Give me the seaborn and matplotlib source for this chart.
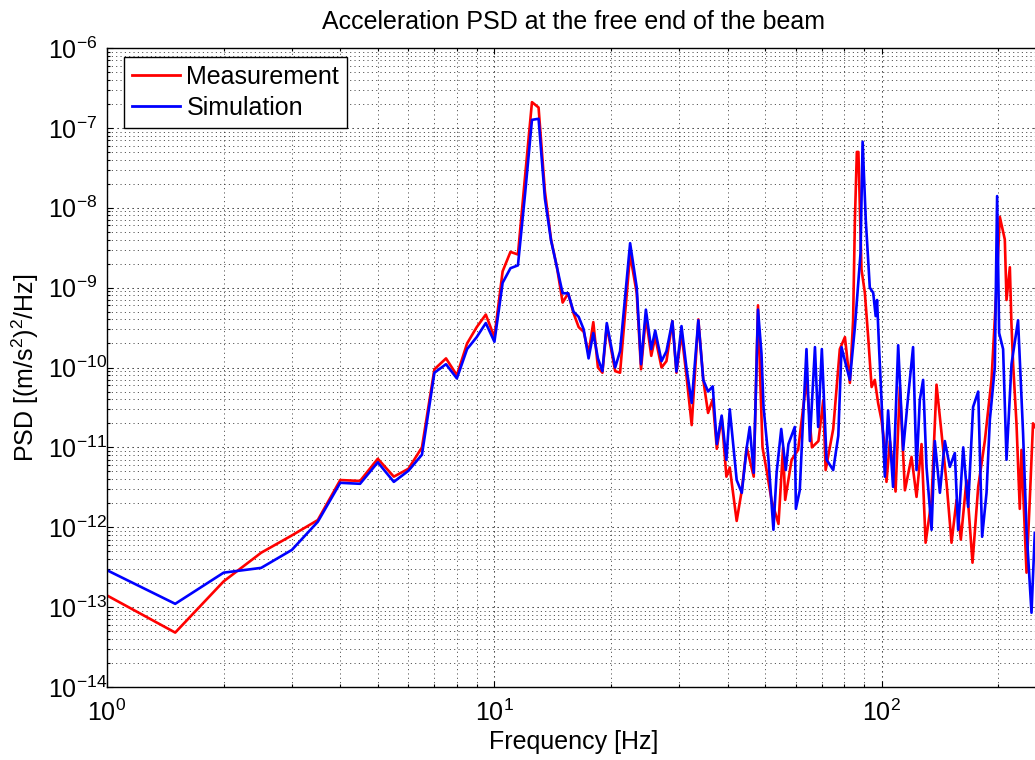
import matplotlib
matplotlib.use("Agg")
import pandas as pd
import matplotlib.pyplot as plt
import seaborn as sns
from matplotlib.ticker import LogLocator, NullFormatter

meas_freq = [1.0, 1.5, 2.0, 2.5, 3.0, 3.5, 4.0, 4.5, 5.0, 5.5, 6.0, 6.5, 7.0, 7.5, 8.0, 8.5,
             9.0, 9.5, 10.0, 10.5, 11.0, 11.5, 12.0, 12.5, 13.0, 13.5, 14.0, 14.5, 15.0, 15.5,
             16.0, 16.5, 17.0, 17.5, 18.0, 18.5, 19.0, 19.5, 20.5, 21.1, 22.4, 23.3, 23.9, 24.6,
             25.4, 26.0, 27.0, 27.8, 28.8, 29.5, 30.4, 31.3, 32.3, 33.6, 34.6, 35.6, 36.6, 37.5,
             38.6, 39.7, 40.5, 42.2, 43.5, 44.8, 45.6, 46.7, 47.9, 48.6, 49.2, 50.4, 51.9, 54.1,
             55.6, 56.3, 58.5, 60.8, 63.9, 66.0, 68.6, 70.6, 71.6, 74.9, 77.9, 80.3, 82.7, 84.3,
             85.2, 86.2, 87.0, 87.7, 88.6, 90.4, 92.2, 94.1, 95.9, 97.8, 99.8, 101.8, 102.8,
             104.9, 108.5, 111.3, 114.7, 119.3, 122.9, 126.6, 129.7, 134.4, 138.4, 142.6, 146.9,
             151.3, 155.9, 159.9, 165.4, 171.4, 177.3, 184.4, 191.9, 197.7, 201.6, 207.7, 209.8,
             214.0, 216.0, 218.2, 222.6, 227.0, 229.3, 236.3, 240.9, 245.6, 248.0]
meas_psd = [1.4e-13, 4.8e-14, 2.1e-13, 4.8e-13, 7.9e-13, 1.23e-12, 3.9e-12, 3.8e-12, 7.2e-12,
            4.3e-12, 5.4e-12, 1.0e-11, 9.5e-11, 1.3e-10, 8.0e-11, 2.0e-10, 3.2e-10, 4.6e-10,
            2.4e-10, 1.6e-09, 2.8e-09, 2.6e-09, 2.5e-08, 2.1e-07, 1.8e-07, 1.6e-08, 4.0e-09,
            1.8e-09, 6.5e-10, 8.5e-10, 4.8e-10, 3.2e-10, 2.8e-10, 1.5e-10, 3.7e-10, 1.0e-10,
            8.6e-11, 3.3e-10, 9.0e-11, 8.6e-11, 2.6e-09, 8.5e-10, 9.5e-11, 4.3e-10, 1.4e-10,
            2.4e-10, 1.0e-10, 1.2e-10, 3.8e-10, 8.6e-11, 2.7e-10, 8.0e-11, 1.9e-11, 4.0e-10,
            7.0e-11, 2.7e-11, 4.0e-11, 9.6e-12, 2.4e-11, 4.3e-12, 5.6e-12, 1.2e-12, 2.9e-12,
            1.0e-11, 7.0e-12, 4.3e-12, 6.0e-10, 6.0e-11, 1.0e-11, 5.2e-12, 2.2e-12, 1.1e-12,
            1.0e-11, 2.2e-12, 7.0e-12, 9.3e-12, 7.0e-11, 1.0e-11, 1.2e-11, 3.9e-11, 5.2e-12,
            1.7e-11, 1.7e-10, 2.4e-10, 6.4e-11, 3.9e-10, 7.0e-09, 5.0e-08, 5.0e-08, 1.1e-08,
            1.7e-09, 8.6e-10, 2.4e-10, 5.7e-11, 7.0e-11, 3.6e-11, 2.2e-11, 1.0e-11, 3.7e-12,
            1.2e-11, 2.8e-12, 5.7e-11, 2.9e-12, 7.6e-12, 2.4e-12, 1.1e-11, 6.4e-13, 2.2e-12,
            6.1e-11, 1.5e-11, 3.6e-12, 6.4e-13, 2.2e-12, 7.0e-13, 3.9e-12, 3.6e-13, 3.2e-12,
            1.2e-11, 7.0e-11, 1.0e-09, 7.7e-09, 4.0e-09, 7.0e-10, 1.8e-09, 3.6e-10, 1.1e-10,
            2.0e-11, 1.7e-12, 9.3e-12, 2.7e-13, 2.2e-12, 2.0e-11, 1.8e-11]

# Simulated PSD
sim_freq = [1.0, 1.5, 2.0, 2.5, 3.0, 3.5, 4.0, 4.5, 5.0, 5.5, 6.0, 6.5, 7.0, 7.5, 8.0, 8.5,
            9.0, 9.5, 10.0, 10.5, 11.0, 11.5, 12.0, 12.5, 13.0, 13.5, 14.0, 14.5, 15.0, 15.5,
            16.0, 16.5, 17.0, 17.5, 18.0, 18.5, 19.0, 19.5, 20.5, 21.1, 22.4, 23.3, 23.9, 24.6,
            25.4, 26.0, 27.0, 27.8, 28.8, 29.5, 30.4, 31.3, 32.3, 33.6, 34.6, 35.6, 36.6, 37.5,
            38.6, 39.7, 40.5, 42.2, 43.5, 44.8, 45.6, 46.7, 47.9, 48.9, 49.5, 50.9, 52.5, 53.5,
            55.0, 56.5, 57.4, 59.6, 60.0, 61.4, 62.6, 63.9, 65.2, 67.2, 68.5, 70.0, 72.0, 74.9,
            77.2, 78.7, 81.1, 82.7, 85.2, 88.1, 89.2, 90.9, 93.1, 95.0, 96.4, 97.2, 98.4, 99.8,
            101.8, 103.8, 106.9, 110.2, 113.5, 116.9, 120.4, 122.9, 125.3, 127.8, 130.4, 134.4,
            137.0, 141.2, 145.4, 149.8, 154.3, 157.4, 162.2, 167.0, 172.0, 177.3, 181.5, 186.3,
            190.0, 195.7, 198.4, 200.8, 205.6, 209.8, 216.1, 224.7, 231.5, 236.3, 243.4, 248.2]
sim_psd = [2.9e-13, 1.1e-13, 2.7e-13, 3.1e-13, 5.2e-13, 1.17e-12, 3.6e-12, 3.5e-12, 6.5e-12,
           3.7e-12, 5.1e-12, 8.1e-12, 8.6e-11, 1.1e-10, 7.3e-11, 1.7e-10, 2.4e-10, 3.6e-10,
           2.1e-10, 1.15e-09, 1.75e-09, 1.9e-09, 1.5e-08, 1.26e-07, 1.3e-07, 1.3e-08, 3.9e-09,
           1.8e-09, 8.5e-10, 8.5e-10, 5.0e-10, 4.3e-10, 3.0e-10, 1.3e-10, 2.7e-10, 1.3e-10,
           9.0e-11, 3.6e-10, 1.0e-10, 1.6e-10, 3.6e-09, 1.0e-09, 1.1e-10, 5.3e-10, 1.7e-10,
           2.9e-10, 1.2e-10, 1.6e-10, 3.8e-10, 8.9e-11, 3.3e-10, 1.0e-10, 3.6e-11, 3.9e-10,
           7.0e-11, 5.0e-11, 5.8e-11, 1.1e-11, 2.5e-11, 7.0e-12, 3.0e-11, 3.9e-12, 2.7e-12,
           1.0e-11, 1.8e-11, 4.8e-12, 5.3e-10, 1.5e-10, 3.2e-11, 7.8e-12, 9.3e-13, 4.8e-12,
           1.7e-11, 5.2e-12, 1.1e-11, 1.8e-11, 1.7e-12, 2.9e-12, 2.2e-11, 1.7e-10, 1.2e-11,
           1.8e-10, 1.8e-11, 1.7e-10, 7.0e-12, 5.2e-12, 1.4e-11, 1.8e-10, 1.0e-10, 7.0e-11,
           3.2e-10, 2.7e-09, 6.7e-08, 7.0e-09, 1.0e-09, 8.6e-10, 4.4e-10, 7.0e-10, 1.7e-10,
           3.9e-11, 4.3e-12, 2.9e-11, 3.2e-12, 1.9e-10, 9.3e-12, 4.3e-11, 1.8e-10, 5.2e-12,
           3.9e-11, 7.0e-11, 5.7e-12, 9.3e-13, 1.2e-11, 2.7e-12, 1.2e-11, 5.7e-12, 8.5e-12,
           9.3e-13, 1.0e-11, 1.8e-12, 3.2e-11, 5.0e-11, 7.6e-13, 2.7e-12, 2.2e-11, 1.0e-10,
           1.4e-08, 2.7e-10, 1.7e-10, 7.0e-12, 1.1e-10, 3.9e-10, 1.5e-11, 9.3e-13, 8.5e-14,
           8.5e-13]

series_names = ["Measurement", "Simulation"]
series_colors = {"Measurement": "#ff0000", "Simulation": "#0000ff"}
x_ticks = [1, 10, 100]
y_ticks = [1e-14, 1e-13, 1e-12, 1e-11, 1e-10, 1e-9, 1e-8, 1e-7, 1e-6]

df = pd.concat([
    pd.DataFrame({"Frequency": meas_freq, "PSD": meas_psd, "Series": "Measurement"}),
    pd.DataFrame({"Frequency": sim_freq, "PSD": sim_psd, "Series": "Simulation"}),
], ignore_index=True)

plt.rcParams["font.family"] = ["Liberation Sans", "DejaVu Sans"]
plt.rcParams["mathtext.fontset"] = "custom"
plt.rcParams["mathtext.rm"] = "Liberation Sans"
plt.rcParams["mathtext.it"] = "Liberation Sans:italic"
plt.rcParams["mathtext.bf"] = "Liberation Sans:bold"

fig = plt.figure(figsize=(10.35, 7.6), dpi=100)
# axes run a little past the right edge of the picture, as in the reference
ax = fig.add_axes([107 / 1035, 1 - 687 / 760, 933 / 1035, 639 / 760])

sns.lineplot(data=df, x="Frequency", y="PSD", hue="Series", hue_order=series_names,
             palette=series_colors, estimator=None, sort=False, linewidth=1.9, ax=ax)

ax.set_xscale("log")
ax.set_yscale("log")
ax.set_xlim(1, 256)
ax.set_ylim(1e-14, 1e-6)

ax.set_xticks(x_ticks)
ax.set_yticks(y_ticks)
ax.xaxis.set_minor_locator(LogLocator(base=10, subs=range(2, 10), numticks=20))
ax.yaxis.set_minor_locator(LogLocator(base=10, subs=range(2, 10), numticks=20))
ax.xaxis.set_minor_formatter(NullFormatter())
ax.yaxis.set_minor_formatter(NullFormatter())

ax.grid(True, which="major", color="k", linestyle=(0, (1.2, 3.6)), linewidth=0.75, alpha=0.9)
ax.grid(True, which="minor", color="k", linestyle=(0, (1.2, 3.6)), linewidth=0.65, alpha=0.75)
ax.set_axisbelow(True)

ax.tick_params(which="both", direction="in", top=True, right=True, colors="k", width=0.8)
ax.tick_params(which="major", length=4)
ax.tick_params(which="minor", length=2.2)
ax.tick_params(axis="x", labelsize=18, pad=9)
# MATLAB-like: y tick labels start at a common left edge
ax.tick_params(axis="y", labelsize=18, pad=42.5)
plt.setp(ax.get_yticklabels(), ha="left")
for s in ax.spines.values():
    s.set_color("k")
    s.set_linewidth(1.0)

ax.set_title("Acceleration PSD at the free end of the beam", fontsize=18, pad=14)
ax.set_xlabel("Frequency [Hz]", fontsize=18, labelpad=3)
ax.set_ylabel("PSD [(m/s$^2$)$^2$/Hz]", fontsize=18, labelpad=5)

leg = ax.legend(loc="upper left", bbox_to_anchor=(17 / 933, 1 - 9 / 639), borderaxespad=0,
                fontsize=18, frameon=True, fancybox=False, edgecolor="k", framealpha=1,
                borderpad=0.3, labelspacing=0.3, handlelength=1.95, handletextpad=0.25)
leg.get_frame().set_linewidth(1.0)
for line in leg.get_lines():
    line.set_linewidth(2)

fig.savefig("out.png", dpi=100)
